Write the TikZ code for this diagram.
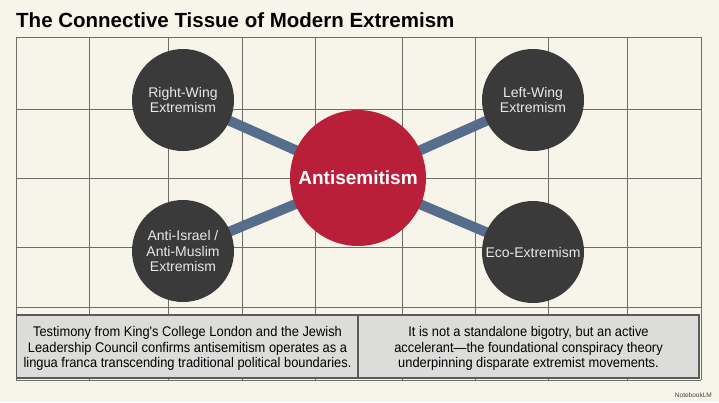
\documentclass[tikz,border=0pt]{standalone}
\usepackage{fontspec}
\setmainfont{Liberation Sans}
\newfontfamily\narrowfont[FakeStretch=0.92]{Liberation Sans}
\definecolor{bgcream}{HTML}{F7F5EA}
\definecolor{gridgray}{HTML}{6E6E68}
\definecolor{darknode}{HTML}{3A3A3A}
\definecolor{hubred}{HTML}{B91F39}
\definecolor{linkblue}{HTML}{566D8C}
\definecolor{boxfill}{HTML}{DCDCDA}
\definecolor{boxline}{HTML}{5A5A5A}
\definecolor{labelwhite}{HTML}{E8E8E8}
\tikzset{
  gridline/.style={draw=gridgray, line width=0.9pt},
  satellite/.style={circle, fill=darknode, minimum size=102pt, inner sep=0pt,
    text=labelwhite, font=\fontsize{14}{15.7}\selectfont, align=center},
  hub/.style={circle, fill=hubred, minimum size=136pt, inner sep=0pt,
    text=white, font=\bfseries\fontsize{19}{21}\selectfont},
  link/.style={draw=linkblue, line width=10pt},
  infobox/.style={draw=boxline, line width=1.6pt, fill=boxfill, minimum height=63pt,
    inner sep=0pt},
  infotext/.style={inner sep=0pt, text=black, align=center,
    font=\narrowfont\fontsize{14}{15.5}\selectfont}
}
\begin{document}
\begin{tikzpicture}[x=1pt,y=-1pt]
\useasboundingbox (0,0) rectangle (719,402);
\fill[bgcream] (0,0) rectangle (719,402);
% grid
\foreach \gx in {16,89,168,242,315,402,475,548,627,701}
  \draw[gridline] (\gx,37) -- (\gx,380);
\foreach \gy in {37,109,178,247,307,380}
  \draw[gridline] (16,\gy) -- (701,\gy);
% title
\node[anchor=base west, inner sep=0pt, font=\bfseries\fontsize{20.5}{22}\selectfont] (title) at (16,27) {The Connective Tissue of Modern Extremism};
% nodes
\coordinate (hubc) at (358,178);
\coordinate (rwc) at (183,100);
\coordinate (lwc) at (533,100);
\coordinate (aic) at (183,251);
\coordinate (ecoc) at (533,252);
\draw[link] (hubc) -- (rwc);
\draw[link] (hubc) -- (lwc);
\draw[link] (hubc) -- (aic);
\draw[link] (hubc) -- (ecoc);
\node[hub] (hub) at (hubc) {Antisemitism};
\node[satellite] (rw) at (rwc) {Right-Wing\\Extremism};
\node[satellite] (lw) at (lwc) {Left-Wing\\Extremism};
\node[satellite] (ai) at (aic) {Anti-Israel /\\Anti-Muslim\\Extremism};
\node[satellite] (eco) at (ecoc) {Eco-Extremism};
% boxes
\node[infobox, minimum width=342pt] (boxl) at (187.5,346.5) {};
\node[infobox, minimum width=341pt] (boxr) at (528.5,346.5) {};
\node[infotext] (textl) at ([yshift=-2pt]boxl.center) {Testimony from King's College London and the Jewish\\Leadership Council confirms antisemitism operates as a\\lingua franca transcending traditional political boundaries.};
\node[infotext] (textr) at ([yshift=-2pt]boxr.center) {It is not a standalone bigotry, but an active\\accelerant\textemdash the foundational conspiracy theory\\underpinning disparate extremist movements.};
% watermark
\node[anchor=east, inner sep=0pt, font=\fontsize{6.5}{7}\selectfont, text=black!75] (wm) at (712,395) {NotebookLM};
\end{tikzpicture}
\end{document}
